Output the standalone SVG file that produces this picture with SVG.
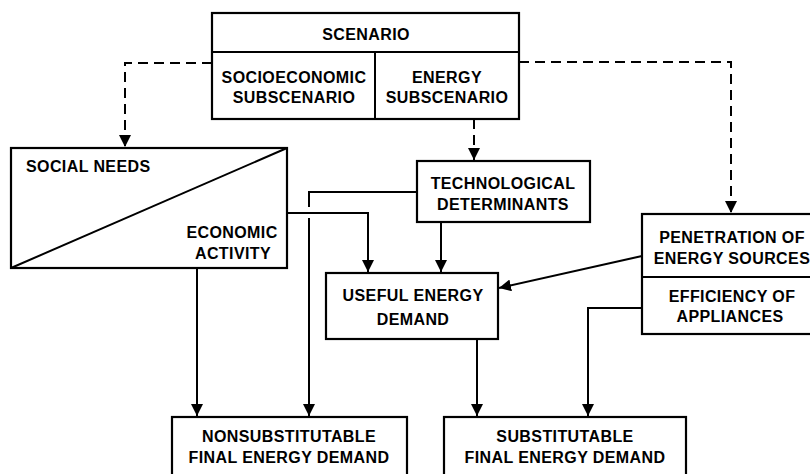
<svg xmlns="http://www.w3.org/2000/svg" width="810" height="474" viewBox="0 0 810 474">
<style>
.box{fill:#fff;stroke:#000;stroke-width:2.2}
.ln{fill:none;stroke:#000;stroke-width:2}
.dash{stroke-dasharray:10 6}
text{font-family:"Liberation Sans",Arial,sans-serif;font-size:16px;font-weight:bold;fill:#000;text-anchor:middle;letter-spacing:0.4px}
</style>
<defs>
<marker id="ah" markerUnits="userSpaceOnUse" markerWidth="12" markerHeight="12" viewBox="0 0 10 10" refX="10" refY="5" orient="auto">
<path d="M0,0 L10,5 L0,10 z" fill="#000"/>
</marker>
</defs>
<rect width="810" height="474" fill="#fff"/>
<g id="connectors">
<path class="ln dash" d="M212,63 H125 V147" marker-end="url(#ah)"/>
<path class="ln dash" d="M519,62 H731 V213" marker-end="url(#ah)"/>
<path class="ln dash" d="M474,119 V160" marker-end="url(#ah)"/>
<path class="ln" d="M417,192 H309 V207"/>
<path class="ln" d="M309,218 V416" marker-end="url(#ah)"/>
<path class="ln" d="M287,213 H368 V272" marker-end="url(#ah)"/>
<path class="ln" d="M441,222 V272" marker-end="url(#ah)"/>
<path class="ln" d="M642,256 L499,288" marker-end="url(#ah)"/>
<path class="ln" d="M642,308 H588 V416" marker-end="url(#ah)"/>
<path class="ln" d="M477,339 V416" marker-end="url(#ah)"/>
<path class="ln" d="M197,268 V416" marker-end="url(#ah)"/>
</g>
<g id="scenario">
<rect class="box" x="212" y="13" width="307" height="106"/>
<line class="ln" x1="212" y1="52" x2="519" y2="52"/>
<line class="ln" x1="375" y1="52" x2="375" y2="119"/>
<text x="366" y="40">SCENARIO</text>
<text x="294" y="83">SOCIOECONOMIC</text>
<text x="294" y="103">SUBSCENARIO</text>
<text x="447" y="83">ENERGY</text>
<text x="447" y="103">SUBSCENARIO</text>
</g>
<g id="social-needs">
<rect class="box" x="11" y="148" width="276" height="120"/>
<line class="ln" x1="11" y1="268" x2="287" y2="148"/>
<text x="26" y="172" style="text-anchor:start">SOCIAL NEEDS</text>
<text x="232" y="238">ECONOMIC</text>
<text x="233" y="259">ACTIVITY</text>
</g>
<g id="technological">
<rect class="box" x="417" y="161" width="173" height="61"/>
<text x="503" y="189">TECHNOLOGICAL</text>
<text x="503" y="210">DETERMINANTS</text>
</g>
<g id="useful-energy">
<rect class="box" x="326" y="273" width="172" height="66"/>
<text x="413" y="301">USEFUL ENERGY</text>
<text x="413" y="325">DEMAND</text>
</g>
<g id="penetration">
<rect class="box" x="642" y="214" width="180" height="120"/>
<line class="ln" x1="642" y1="277" x2="822" y2="277"/>
<text x="732" y="243">PENETRATION OF</text>
<text x="732" y="264">ENERGY SOURCES</text>
<text x="732" y="302">EFFICIENCY OF</text>
<text x="730" y="322">APPLIANCES</text>
</g>
<g id="nonsubstitutable">
<rect class="box" x="172" y="417" width="235" height="70"/>
<text x="289" y="442">NONSUBSTITUTABLE</text>
<text x="289" y="463">FINAL ENERGY DEMAND</text>
</g>
<g id="substitutable">
<rect class="box" x="444" y="417" width="242" height="70"/>
<text x="565" y="442">SUBSTITUTABLE</text>
<text x="565" y="463">FINAL ENERGY DEMAND</text>
</g>
</svg>
